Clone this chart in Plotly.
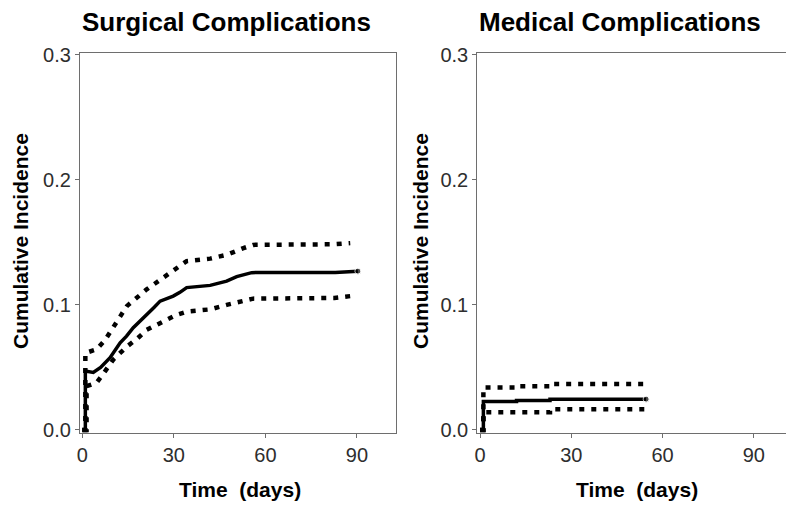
import plotly.graph_objects as go

# ---- Data ----
surg_t = [0, 1.0, 1.0, 3.6, 6.0, 9.1, 12.4, 14.5, 16.7, 19.0, 21.1, 23.5, 25.5, 29.8, 32.0, 34.2, 41.9, 47.3, 50.6, 55.5, 82.9, 90.3]
surg_ci = [0, 0, 0.047, 0.046, 0.050, 0.0577, 0.0697, 0.075, 0.0817, 0.087, 0.0924, 0.098, 0.103, 0.107, 0.110, 0.1138, 0.1156, 0.119, 0.1226, 0.1258, 0.126, 0.127]

surg_up_t = [0, 1.0, 1.0, 4.7, 7.5, 10.2, 12.5, 14.6, 18.0, 21.1, 25.5, 30.9, 34.2, 41.9, 47.3, 52.8, 56.0, 82.6, 87.8]
surg_up = [0, 0, 0.0615, 0.0644, 0.072, 0.083, 0.091, 0.099, 0.106, 0.1124, 0.120, 0.1294, 0.135, 0.137, 0.140, 0.1454, 0.148, 0.1485, 0.1494]

surg_lo_t = [0, 1.4, 1.4, 4.7, 7.5, 10.2, 14.6, 18.0, 21.1, 25.5, 30.9, 34.2, 41.9, 47.3, 52.8, 56.0, 82.6, 87.8]
surg_lo = [0, 0, 0.035, 0.0377, 0.047, 0.0564, 0.0666, 0.073, 0.080, 0.0854, 0.092, 0.0946, 0.0964, 0.100, 0.103, 0.105, 0.1055, 0.107]

med_t = [0, 1.1, 1.1, 12.0, 12.0, 23.0, 23.0, 54.6]
med_ci = [0, 0, 0.0228, 0.0228, 0.0236, 0.0236, 0.0246, 0.0246]
med_up_t = [0, 1.1, 1.1, 12.0, 12.0, 23.0, 23.0, 55.4]
med_up = [0, 0, 0.034, 0.034, 0.035, 0.035, 0.0367, 0.0367]
med_lo_t = [0, 1.1, 1.1, 23.0, 23.0, 54.4]
med_lo = [0, 0, 0.0142, 0.0142, 0.0166, 0.0166]

x_ticks = [0, 30, 60, 90]
y_ticks = [0.0, 0.1, 0.2, 0.3]
titles = ["Surgical Complications", "Medical Complications"]
y_title = "Cumulative Incidence"
x_title = "Time\u00a0 (days)"

W, H = 786, 505
FONT = "Liberation Sans, Arial, Helvetica, sans-serif"
AX_COL = "#6e6e6e"
TICK_COL = "#2e2e2e"
DOT = "5px,7px"

fig = go.Figure()

def add_series(t, v, xa, ya, dash=None, width=3.5, end_marker=False):
    n = len(t)
    fig.add_trace(go.Scatter(
        x=t, y=v, xaxis=xa, yaxis=ya, mode="lines+markers" if end_marker else "lines",
        line=dict(color="black", width=width, dash=dash),
        marker=dict(size=[0] * (n - 1) + [6], color="black", symbol="circle") if end_marker else None,
        showlegend=False, hoverinfo="skip"))

add_series(surg_up_t, surg_up, "x", "y", dash=DOT, width=4.5)
add_series(surg_lo_t, surg_lo, "x", "y", dash=DOT, width=4.5)
add_series(surg_t, surg_ci, "x", "y", width=3.5, end_marker=True)
add_series(med_up_t, med_up, "x2", "y2", dash=DOT, width=4.5)
add_series(med_lo_t, med_lo, "x2", "y2", dash=DOT, width=4.5)
add_series(med_t, med_ci, "x2", "y2", width=3.5, end_marker=True)

yb = (H - 433) / H
yt = (H - 53) / H

common_x = dict(tickvals=x_ticks, ticktext=[str(v) for v in x_ticks], showgrid=False, zeroline=False,
                showline=True, linecolor=AX_COL, linewidth=1.2, ticks="outside", ticklen=4,
                tickcolor=AX_COL, tickfont=dict(family=FONT, size=20, color=TICK_COL), mirror=True,
                automargin=False)
common_y = dict(tickvals=y_ticks, ticktext=["%.1f" % v for v in y_ticks], showgrid=False, zeroline=False,
                showline=True, linecolor=AX_COL, linewidth=1.2, ticks="outside", ticklen=4,
                tickcolor=AX_COL, tickfont=dict(family=FONT, size=20, color=TICK_COL),
                range=[-0.0025, 0.3015], domain=[yb, yt], automargin=False)

fig.update_layout(
    width=W, height=H, margin=dict(l=0, r=0, t=0, b=0, autoexpand=False),
    paper_bgcolor="white", plot_bgcolor="white",
    xaxis=dict(common_x, domain=[80 / W, 396 / W], range=[-0.75, 102.8], anchor="y"),
    yaxis=dict(common_y, anchor="x", mirror=True),
    xaxis2=dict(common_x, domain=[477.3 / W, 1.0], range=[-0.9, 100.6], anchor="y2"),
    yaxis2=dict(common_y, anchor="x2", mirror=False),
)

ann = []
for txt, xc in zip(titles, [226, 620]):
    ann.append(dict(text="<b>%s</b>" % txt, x=xc / W, y=1 - 22 / H, xref="paper", yref="paper",
                    showarrow=False, xanchor="center", yanchor="middle",
                    font=dict(family=FONT, size=26, color="black")))
for xc in [20, 420]:
    ann.append(dict(text="<b>%s</b>" % y_title, x=xc / W, y=1 - 241 / H, xref="paper", yref="paper",
                    showarrow=False, xanchor="center", yanchor="middle", textangle=-90,
                    font=dict(family=FONT, size=21, color="black")))
for xc in [240, 637]:
    ann.append(dict(text="<b>%s</b>" % x_title, x=xc / W, y=1 - 489 / H, xref="paper", yref="paper",
                    showarrow=False, xanchor="center", yanchor="middle",
                    font=dict(family=FONT, size=21, color="black")))
fig.update_layout(annotations=ann)

fig.write_html("out.html", config={"displayModeBar": False},
               post_script="document.body.style.margin='0';document.body.style.overflow='hidden';")
